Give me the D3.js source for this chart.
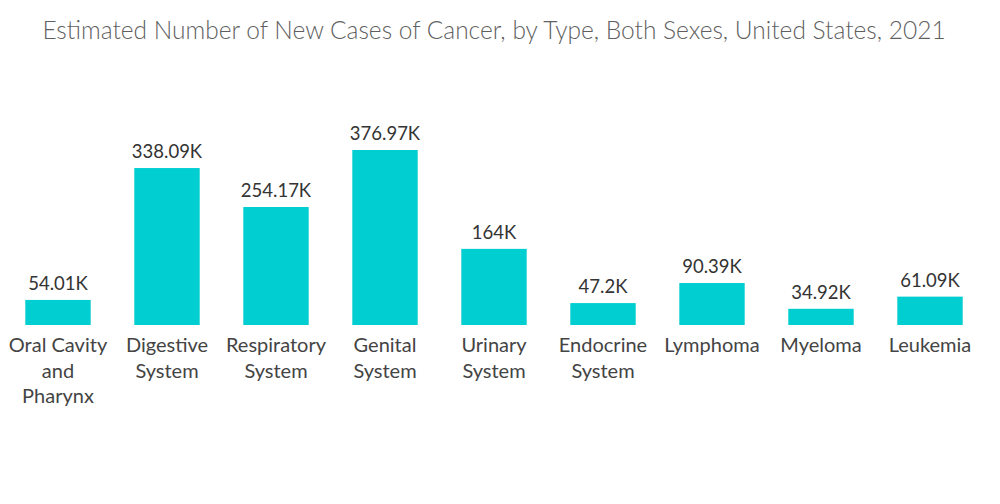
<!DOCTYPE html>
<html>
<head>
<meta charset="utf-8">
<script src="https://cdn.jsdelivr.net/npm/d3@7"></script>
<style>
  body { margin: 0; background: #fff; }
  text { font-family: Lato, "Open Sans", sans-serif; }
</style>
</head>
<body>
<div id="chart"></div>
<script>
// data
var categories = [
    ["Oral Cavity", "and", "Pharynx"],
    ["Digestive", "System"],
    ["Respiratory", "System"],
    ["Genital", "System"],
    ["Urinary", "System"],
    ["Endocrine", "System"],
    ["Lymphoma"],
    ["Myeloma"],
    ["Leukemia"]
];
var cases = [54.01, 338.09, 254.17, 376.97, 164, 47.2, 90.39, 34.92, 61.09];
var valueLabels = ["54.01K", "338.09K", "254.17K", "376.97K", "164K", "47.2K", "90.39K", "34.92K", "61.09K"];

var svgWidth = 1000;
var svgHeight = 504;
var baseline = 325;

var svg = d3.select("#chart")
    .append("svg")
    .attr("width", svgWidth)
    .attr("height", svgHeight);

svg.append("text")
    .attr("x", 494)
    .attr("y", 39)
    .attr("text-anchor", "middle")
    .style("font-size", "24.5px")
    .style("font-weight", "300")
    .style("fill", "#5f5f5f")
    .text("Estimated Number of New Cases of Cancer, by Type, Both Sexes, United States, 2021");

var idx = d3.range(cases.length);

var x = d3.scaleBand()
    .domain(idx)
    .range([3.5, 984.5])
    .paddingInner(0.4)
    .paddingOuter(0.2);

var y = d3.scaleLinear()
    .domain([0, 376.97])
    .range([baseline, 150]);

svg.selectAll("rect.bar")
    .data(idx)
    .enter()
    .append("rect")
    .attr("class", "bar")
    .attr("x", i => x(i))
    .attr("y", i => y(cases[i]))
    .attr("width", x.bandwidth())
    .attr("height", i => baseline - y(cases[i]))
    .attr("fill", "#00CED1");

svg.selectAll("text.val")
    .data(idx)
    .enter()
    .append("text")
    .attr("class", "val")
    .attr("x", i => x(i) + x.bandwidth() / 2)
    .attr("y", i => y(cases[i]) - 10)
    .attr("text-anchor", "middle")
    .style("font-size", "18.5px")
    .style("fill", "#333")
    .text(i => valueLabels[i]);

// category labels, multi line
var catGroup = svg.selectAll("text.cat")
    .data(idx)
    .enter()
    .append("text")
    .attr("class", "cat")
    .attr("text-anchor", "middle")
    .style("font-size", "20px")
    .style("fill", "#444");

catGroup.selectAll("tspan")
    .data(i => categories[i].map(s => ({ s: s, i: i })))
    .enter()
    .append("tspan")
    .attr("x", d => x(d.i) + x.bandwidth() / 2)
    .attr("y", (d, j) => 352 + j * 25.5)
    .text(d => d.s);
</script>
</body>
</html>
